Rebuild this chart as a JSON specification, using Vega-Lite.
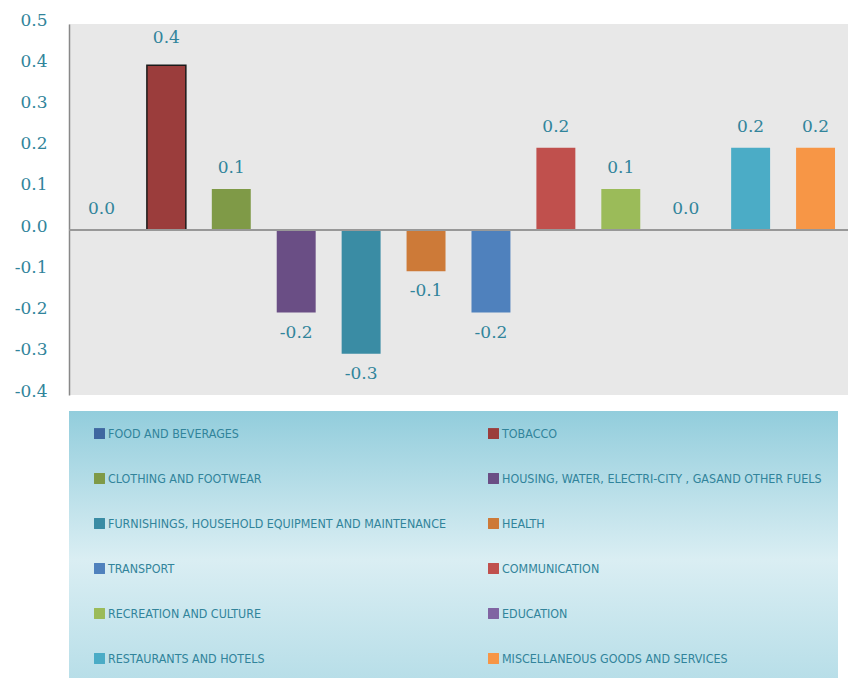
{
  "$schema": "https://vega.github.io/schema/vega-lite/v6.json",
  "autosize": "none",
  "width": 779,
  "height": 371,
  "padding": {"left": 69, "top": 24, "right": 5, "bottom": 283},
  "background": "white",
  "config": {
    "view": {"fill": "#E8E8E8", "stroke": null},
    "axis": {"grid": false},
    "locale": {"number": {"decimal": ".", "thousands": ",", "grouping": [3], "currency": ["$", ""], "minus": "-"}}
  },
  "data": {
    "values": [
      {"category": "FOOD AND BEVERAGES", "value": 0.0},
      {"category": "TOBACCO", "value": 0.4},
      {"category": "CLOTHING AND FOOTWEAR", "value": 0.1},
      {"category": "HOUSING, WATER, ELECTRI-CITY , GASAND OTHER FUELS", "value": -0.2},
      {"category": "FURNISHINGS, HOUSEHOLD EQUIPMENT AND MAINTENANCE", "value": -0.3},
      {"category": "HEALTH", "value": -0.1},
      {"category": "TRANSPORT", "value": -0.2},
      {"category": "COMMUNICATION", "value": 0.2},
      {"category": "RECREATION AND CULTURE", "value": 0.1},
      {"category": "EDUCATION", "value": 0.0},
      {"category": "RESTAURANTS AND HOTELS", "value": 0.2},
      {"category": "MISCELLANEOUS GOODS AND SERVICES", "value": 0.2}
    ]
  },
  "encoding": {
    "x": {
      "field": "category", "type": "nominal", "sort": null,
      "scale": {"paddingInner": 0.4, "paddingOuter": 0.2},
      "axis": null
    },
    "y": {
      "field": "value", "type": "quantitative",
      "scale": {"domain": [-0.4, 0.5], "nice": false, "zero": false},
      "axis": {
        "values": [-0.4, -0.3, -0.2, -0.1, 0, 0.1, 0.2, 0.3, 0.4, 0.5],
        "format": ".1f",
        "ticks": false,
        "domainColor": "#888888",
        "domainWidth": 1.5,
        "labelFont": "DejaVu Serif",
        "labelFontSize": 17,
        "labelColor": "#31849B",
        "labelPadding": 22,
        "labelOffset": -4,
        "title": null
      }
    }
  },
  "layer": [
    {
      "mark": {"type": "bar", "strokeWidth": 1.5},
      "encoding": {
        "color": {
          "field": "category", "type": "nominal", "sort": null,
          "scale": {
            "domain": ["FOOD AND BEVERAGES", "TOBACCO", "CLOTHING AND FOOTWEAR", "HOUSING, WATER, ELECTRI-CITY , GASAND OTHER FUELS", "FURNISHINGS, HOUSEHOLD EQUIPMENT AND MAINTENANCE", "HEALTH", "TRANSPORT", "COMMUNICATION", "RECREATION AND CULTURE", "EDUCATION", "RESTAURANTS AND HOTELS", "MISCELLANEOUS GOODS AND SERVICES"],
            "range": ["#3F67A0", "#9B3D3C", "#7F9A47", "#6A4E85", "#3A8CA4", "#CD7A38", "#4F81BD", "#C0504D", "#9BBB59", "#8064A2", "#4BACC6", "#F79646"]
          },
          "legend": {
            "orient": "none",
            "legendX": 0,
            "legendY": 387,
            "direction": "horizontal",
            "columns": 2,
            "gridAlign": "all",
            "title": null,
            "symbolType": "square",
            "symbolSize": 120,
            "symbolOpacity": 1,
            "symbolOffset": 8,
            "labelFont": "DejaVu Sans Condensed",
            "labelFontSize": 12.4,
            "labelColor": "#31849B",
            "labelLimit": 400,
            "labelOffset": 2,
            "rowPadding": 32,
            "columnPadding": 32,
            "padding": 16,
            "offset": 0,
            "fillColor": {"expr": "{gradient: 'linear', x1: 0, y1: 0, x2: 0, y2: 1, stops: [{offset: 0, color: '#92CDDC'}, {offset: 0.55, color: '#DAEEF3'}, {offset: 1, color: '#B7DEE8'}]}"},
            "strokeColor": null
          }
        },
        "stroke": {
          "condition": {"test": "datum.category === 'TOBACCO'", "value": "#1A1A1A"},
          "value": null
        }
      }
    },
    {
      "mark": {"type": "rule", "color": "#999999", "strokeWidth": 1.5},
      "encoding": {"y": {"datum": 0}, "x": null}
    },
    {
      "transform": [{"filter": "datum.value >= 0 && datum.value < 0.35"}],
      "mark": {"type": "text", "baseline": "bottom", "dy": -12, "font": "DejaVu Serif", "fontSize": 17, "color": "#31849B"},
      "encoding": {"text": {"field": "value", "type": "quantitative", "format": ".1f"}}
    },
    {
      "transform": [{"filter": "datum.value >= 0.35"}],
      "mark": {"type": "text", "baseline": "bottom", "dy": -18, "font": "DejaVu Serif", "fontSize": 17, "color": "#31849B"},
      "encoding": {"text": {"field": "value", "type": "quantitative", "format": ".1f"}}
    },
    {
      "transform": [{"filter": "datum.value < 0"}],
      "mark": {"type": "text", "baseline": "top", "dy": 12, "font": "DejaVu Serif", "fontSize": 17, "color": "#31849B"},
      "encoding": {"text": {"field": "value", "type": "quantitative", "format": ".1f"}}
    }
  ]
}
